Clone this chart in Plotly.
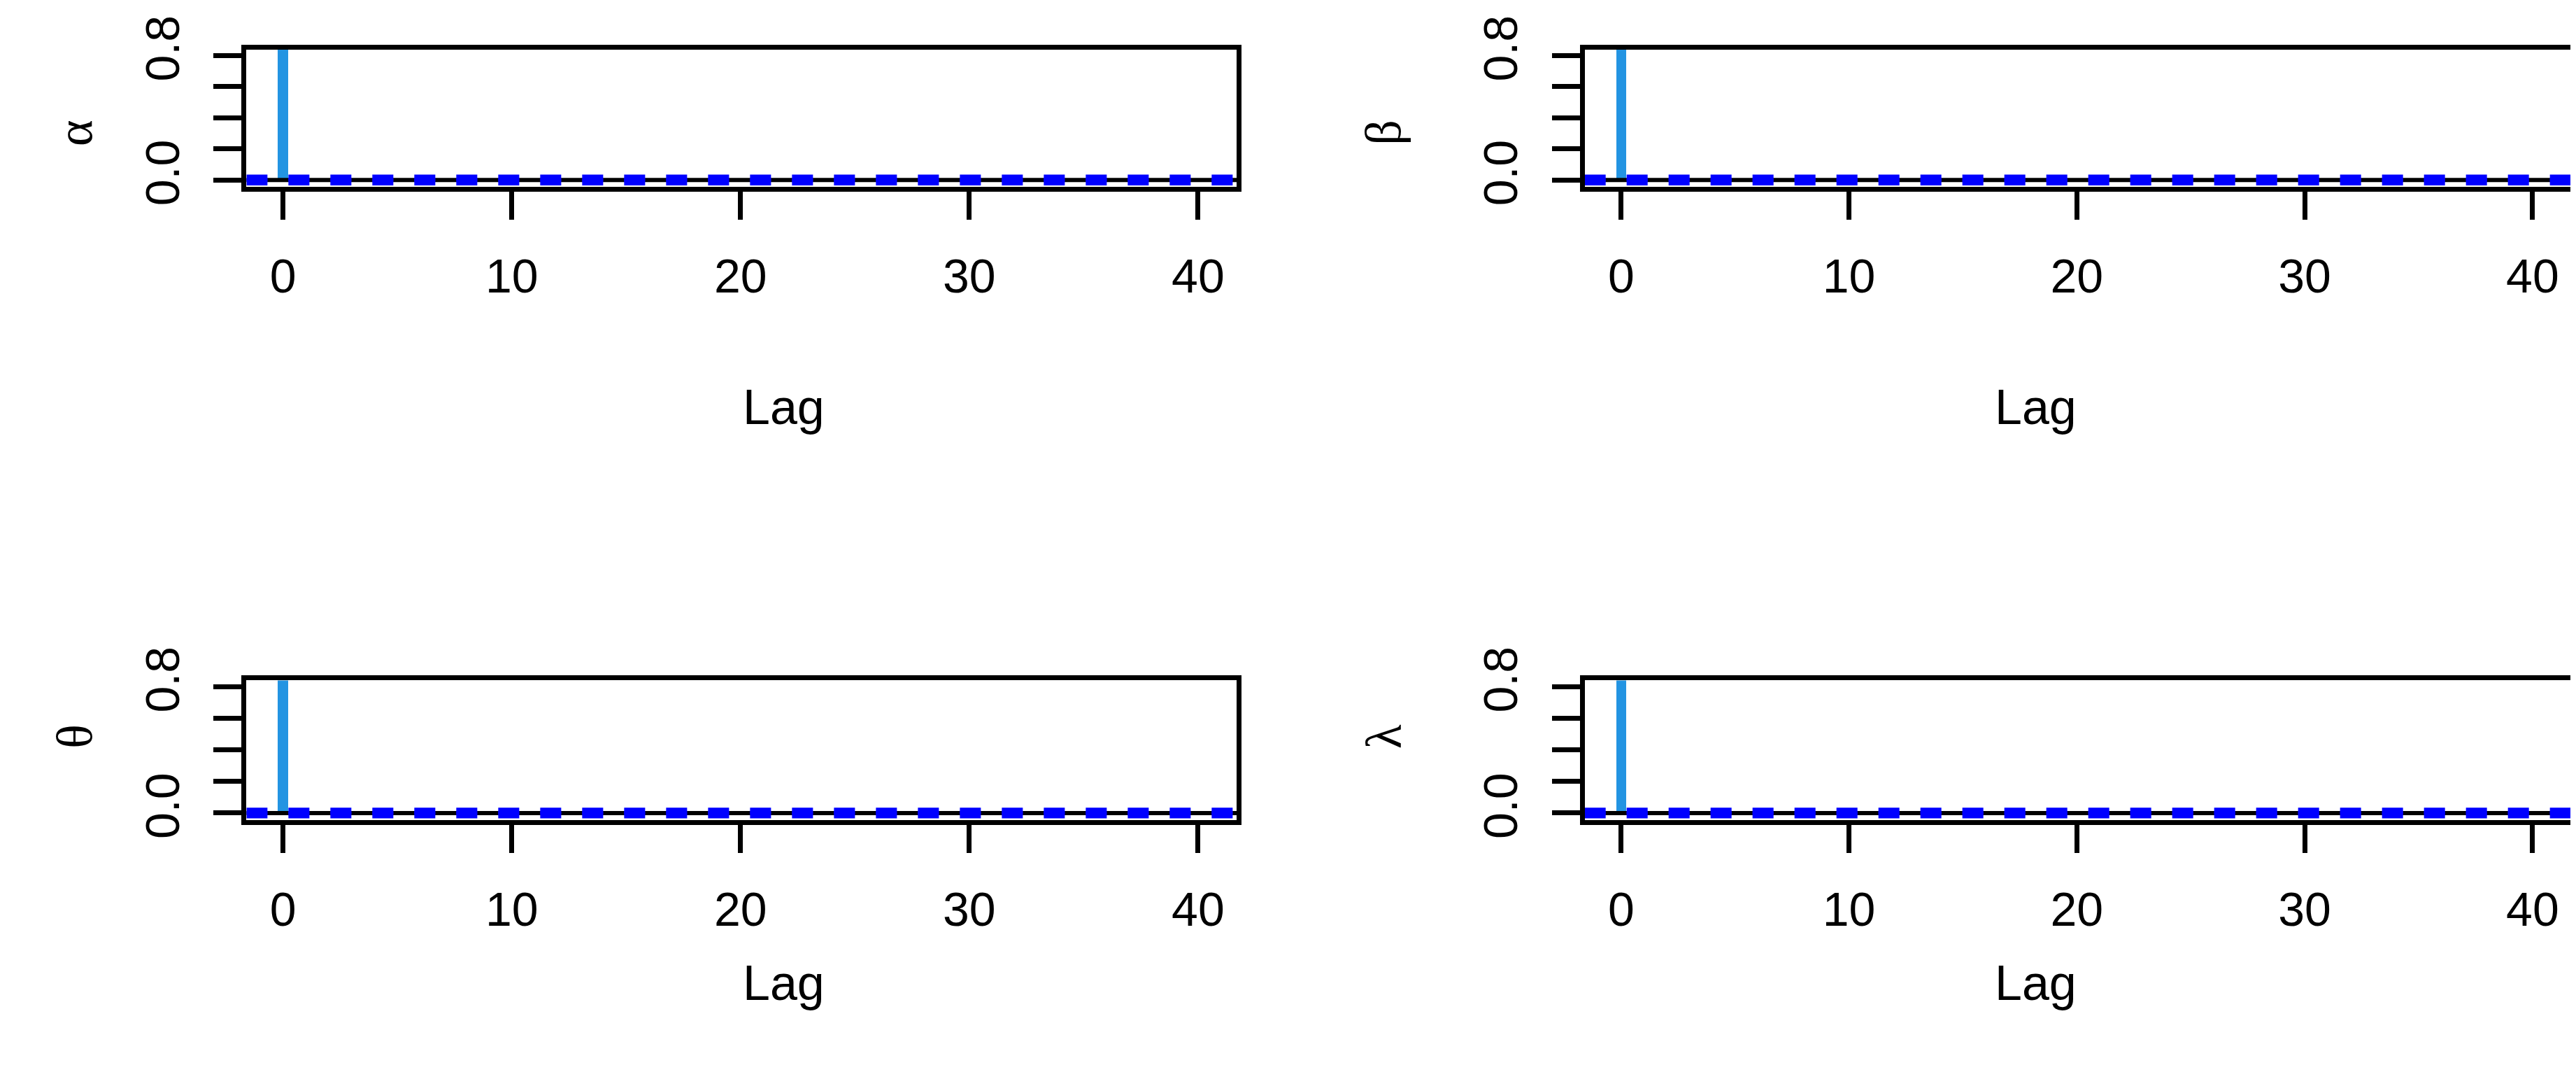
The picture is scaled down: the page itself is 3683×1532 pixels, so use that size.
import plotly.graph_objects as go

lags = list(range(41))
acf_alpha = [1.0, 0.004, -0.006, 0.003, 0.008, -0.004, 0.006, -0.003, 0.002, 0.005, -0.007, 0.003, 0.004, -0.002, 0.006, -0.005, 0.002, 0.007, 0.004, -0.003, 0.005, 0.002, 0.003, 0.012, 0.006, 0.009, 0.004, -0.003, 0.006, 0.004, 0.002, -0.004, 0.003, 0.005, -0.002, 0.004, 0.006, 0.008, -0.003, 0.004, 0.002]
acf_beta = [1.0, 0.003, -0.004, 0.006, 0.004, 0.008, -0.003, 0.005, 0.002, -0.004, 0.006, 0.003, -0.002, 0.004, 0.007, 0.009, 0.011, 0.005, 0.003, 0.006, 0.004, -0.003, 0.002, 0.005, 0.004, 0.008, 0.003, -0.002, 0.004, 0.006, 0.005, 0.002, -0.003, 0.004, 0.003, 0.007, 0.005, 0.002, 0.004, -0.002, 0.003]
acf_theta = [1.0, 0.005, 0.002, -0.003, 0.004, 0.006, -0.002, 0.003, 0.004, 0.009, 0.005, 0.003, 0.004, 0.006, 0.005, 0.007, 0.003, 0.002, 0.004, 0.005, 0.006, 0.003, 0.002, 0.004, 0.008, 0.005, 0.003, 0.004, 0.006, 0.002, 0.005, 0.003, 0.004, 0.002, 0.005, 0.006, 0.004, 0.008, 0.003, 0.005, 0.004]
acf_lambda = [1.0, 0.002, 0.004, 0.007, 0.005, -0.003, 0.004, 0.002, 0.005, -0.004, 0.003, 0.005, 0.002, 0.004, 0.003, -0.002, 0.004, 0.003, 0.005, 0.008, 0.004, 0.002, -0.003, 0.004, 0.006, 0.009, 0.004, 0.003, 0.005, 0.007, 0.010, 0.004, 0.002, 0.005, 0.003, -0.002, 0.004, 0.006, 0.003, 0.005, 0.004]
param_labels = ["α", "β", "θ", "λ"]
x_ticks = [0, 10, 20, 30, 40]
y_ticks = [0.0, 0.2, 0.4, 0.6, 0.8]
y_ticktext = ["0.0", "", "", "", "0.8"]
conf = 0.012

series = [acf_alpha, acf_beta, acf_theta, acf_lambda]
xdoms = [[0.0935, 0.478], [0.613, 0.996], [0.0935, 0.478], [0.613, 0.996]]
ydoms = [[0.855, 0.99], [0.855, 0.99], [0.234, 0.371], [0.234, 0.371]]

fig = go.Figure()
font = "Liberation Sans, Arial, sans-serif"
for i, vals in enumerate(series):
    n = "" if i == 0 else str(i + 1)
    xa, ya = "x" + n, "y" + n
    fig.add_trace(go.Bar(x=lags, y=vals, width=0.45, marker_color="#2394e2",
                         marker_line_width=0, xaxis=xa, yaxis=ya, showlegend=False))
    fig.add_trace(go.Scatter(x=[-1.6, 41.7], y=[0, 0], mode="lines",
                             line=dict(color="black", width=6), xaxis=xa, yaxis=ya, showlegend=False))
    for c in (conf, -conf):
        fig.add_trace(go.Scatter(x=[-1.6, 41.7], y=[c, c], mode="lines",
                                 line=dict(color="#0000ff", width=10, dash="dash"),
                                 xaxis=xa, yaxis=ya, showlegend=False))
    common = dict(showgrid=False, zeroline=False, showline=True, linecolor="black",
                  linewidth=7, mirror=True, ticks="outside", ticklen=40, tickwidth=7,
                  tickcolor="black", ticklabelstandoff=22,
                  tickfont=dict(family=font, size=68, color="black"))
    fig.layout["xaxis" + n] = dict(domain=xdoms[i], range=[-1.6, 41.7], tickvals=x_ticks,
                                   anchor=ya, **common)
    fig.layout["yaxis" + n] = dict(domain=ydoms[i], range=[-0.045, 0.84], tickvals=y_ticks,
                                   ticktext=y_ticktext, tickangle=-90, anchor=xa, **common)
    xc = (xdoms[i][0] + xdoms[i][1]) / 2
    fig.add_annotation(text="Lag", x=xc, y=ydoms[i][0] - 0.188, xref="paper", yref="paper",
                       showarrow=False, font=dict(family=font, size=70, color="black"))
    fig.add_annotation(text=param_labels[i], x=xdoms[i][0] - 0.078, y=(ydoms[i][0] + ydoms[i][1]) / 2,
                       xref="paper", yref="paper", showarrow=False, textangle=-90,
                       font=dict(family="Liberation Serif, DejaVu Serif, serif", size=72, color="black"))

fig.update_layout(width=3683, height=1532, margin=dict(l=0, r=0, t=0, b=0),
                  plot_bgcolor="white", paper_bgcolor="white", bargap=0)
fig.write_html("out.html")
